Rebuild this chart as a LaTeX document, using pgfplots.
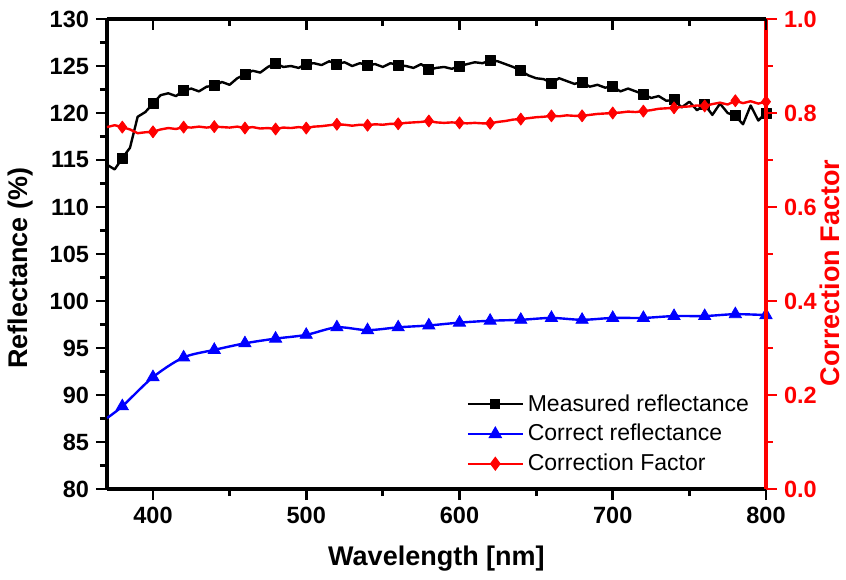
\documentclass[border=0pt]{standalone}
\usepackage{pgfplots}
\pgfplotsset{compat=1.18}
\usepackage{fontspec}
\setmainfont{Liberation Sans}
\begin{document}
\begin{tikzpicture}
\useasboundingbox (-53.5pt,-45pt) rectangle (369.5pt,244.5pt);
\pgfplotsset{
  common/.style={scale only axis, width=329.5pt, height=235pt, xmin=370, xmax=800,
    axis line style={line width=1.6pt,-},
    major tick length=5.5pt, minor tick length=3.5pt,
    tick style={line width=1.4pt, black},
    /pgf/number format/assume math mode=true,
    tick label style={font=\bfseries\fontsize{11.75}{14}\selectfont},
    label style={font=\bfseries\fontsize{13.5}{16}\selectfont},
    xtick={400,500,600,700,800}, minor xtick={450,550,650,750},
  },
}
% left axis: reflectance
\begin{axis}[common, ymin=80, ymax=130,
  axis x line*=bottom, axis y line*=left, tick align=outside,
  ytick={80,85,...,130}, minor ytick={82.5,87.5,...,127.5},
  xlabel={Wavelength [nm]}, ylabel={Reflectance (\%)},
  xlabel style={at={([yshift=-35pt]axis description cs:0.5,0)}, anchor=center},
  ylabel style={at={([xshift=-43pt]axis description cs:0,0.47)}, anchor=center},
]
\addplot[black, line width=1.2pt, line join=round, mark=square*, mark size=2.5pt,
  mark options={solid, line width=0.4pt}, mark repeat=4, mark phase=3] coordinates {
(370,114.5)(375,114.0)(380,115.2)(385,116.3)(390,119.6)(395,120.1)(400,121.0)
(405,121.9)(410,122.1)(415,121.8)(420,122.4)(425,122.6)(430,122.3)(435,122.8)
(440,122.9)(445,123.3)(450,123.0)(455,123.7)(460,124.1)(465,124.5)(470,124.3)
(475,124.9)(480,125.3)(485,124.9)(490,125.0)(495,124.8)(500,125.2)(505,125.3)
(510,125.1)(515,125.5)(520,125.2)(525,125.4)(530,125.0)(535,125.3)(540,125.1)
(545,125.2)(550,124.9)(555,125.3)(560,125.1)(565,125.0)(570,124.8)(575,125.2)
(580,124.6)(585,124.8)(590,124.9)(595,124.7)(600,125.0)(605,125.2)(610,125.4)
(615,125.3)(620,125.6)(625,125.5)(630,125.2)(635,124.9)(640,124.5)(645,124.0)
(650,123.7)(655,123.6)(660,123.2)(665,123.7)(670,123.4)(675,123.1)(680,123.3)
(685,122.8)(690,123.0)(695,122.7)(700,122.8)(705,122.3)(710,122.6)(715,122.3)
(720,122.0)(725,121.6)(730,121.8)(735,121.3)(740,121.4)(745,120.6)(750,121.2)
(755,120.3)(760,120.9)(765,119.8)(770,121.0)(775,120.0)(780,119.7)(785,118.8)
(790,120.8)(795,119.2)(800,120.0)};
\addplot[blue, line width=1.2pt, smooth, mark=triangle*, mark size=3.5pt,
  mark options={solid, line width=0.4pt}, mark repeat=1, mark phase=2] coordinates {
(370,87.55)(380,88.8)(400,91.9)(420,94.0)(440,94.8)(460,95.5)(480,96.0)(500,96.4)
(520,97.2)(540,96.9)(560,97.2)(580,97.4)(600,97.7)(620,97.9)(640,98.0)(660,98.2)
(680,98.0)(700,98.2)(720,98.2)(740,98.4)(760,98.4)(780,98.6)(800,98.5)};
\end{axis}
% right axis: correction factor
\begin{axis}[common, ymin=0, ymax=1,
  axis y line*=right, hide x axis, tick align=outside,
  ytick={0,0.2,0.4,0.6,0.8,1}, minor ytick={0.1,0.3,0.5,0.7,0.9},
  y axis line style={red}, tick style={red, line width=1.4pt},
  yticklabel style={red, /pgf/number format/.cd, fixed, fixed zerofill, precision=1},
  ylabel={Correction Factor},
  ylabel style={red, at={([xshift=32pt]axis description cs:1,0.46)}, anchor=center},
  legend cell align=left,
  legend style={at={(0.99,0.015)}, anchor=south east, draw=none, fill=none,
    font=\fontsize{11.5}{14}\selectfont, row sep=1pt},
  legend image code/.code={\draw[mark repeat=2, mark phase=2, #1] plot coordinates {(0pt,0pt) (13.75pt,0pt) (27.5pt,0pt)};},
]
\addplot[red, line width=1.2pt, line join=round, mark=diamond*, mark size=3pt,
  mark options={solid, line width=0.4pt}, mark repeat=4, mark phase=3, forget plot] coordinates {
(370,0.770)(375,0.774)(380,0.770)(385,0.765)(390,0.757)(395,0.759)(400,0.760)
(405,0.765)(410,0.768)(415,0.766)(420,0.770)(425,0.769)(430,0.771)(435,0.769)
(440,0.771)(445,0.770)(450,0.769)(455,0.771)(460,0.768)(465,0.770)(470,0.767)
(475,0.768)(480,0.766)(485,0.769)(490,0.768)(495,0.770)(500,0.768)(505,0.771)
(510,0.772)(515,0.774)(520,0.776)(525,0.775)(530,0.773)(535,0.775)(540,0.774)
(545,0.776)(550,0.775)(555,0.777)(560,0.777)(565,0.779)(570,0.780)(575,0.781)
(580,0.783)(585,0.780)(590,0.779)(595,0.780)(600,0.779)(605,0.778)(610,0.779)
(615,0.778)(620,0.778)(625,0.781)(630,0.783)(635,0.786)(640,0.787)(645,0.789)
(650,0.791)(655,0.792)(660,0.794)(665,0.793)(670,0.795)(675,0.794)(680,0.794)
(685,0.796)(690,0.798)(695,0.799)(700,0.800)(705,0.801)(710,0.803)(715,0.802)
(720,0.804)(725,0.806)(730,0.809)(735,0.810)(740,0.811)(745,0.813)(750,0.814)
(755,0.816)(760,0.815)(765,0.819)(770,0.822)(775,0.818)(780,0.826)(785,0.821)
(790,0.825)(795,0.820)(800,0.824)};
\addlegendimage{black, line width=1pt, mark=square*, mark size=2pt, mark options={solid}}
\addlegendentry{Measured reflectance}
\addlegendimage{blue, line width=1pt, mark=triangle*, mark size=3pt, mark options={solid}}
\addlegendentry{Correct reflectance}
\addlegendimage{red, line width=1pt, mark=diamond*, mark size=2.8pt, mark options={solid}}
\addlegendentry{Correction Factor}
\end{axis}
% top axis: inward ticks
\begin{axis}[common, ymin=0, ymax=1,
  axis x line*=top, hide y axis, tick align=inside, xticklabels={},
]
\end{axis}
\end{tikzpicture}
\end{document}
